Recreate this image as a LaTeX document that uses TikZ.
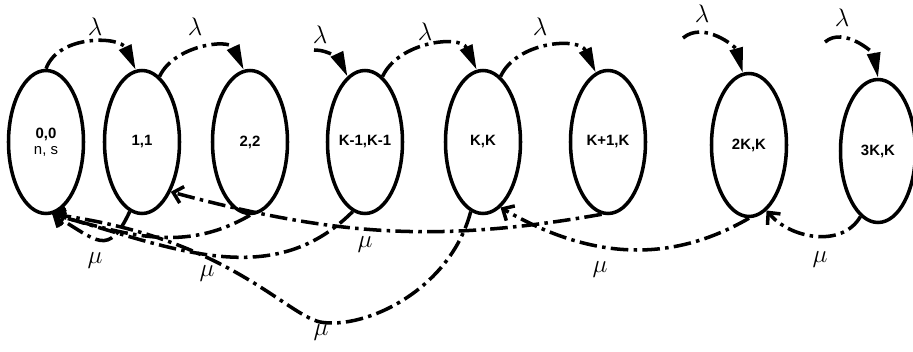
\documentclass[tikz,border=0pt]{standalone}
\usepackage{amsmath,amssymb}
\usepackage{fontspec}
\setsansfont{Liberation Sans}
\usepackage{tikz}
\usetikzlibrary{shapes.geometric,arrows.meta}

\begin{document}
\begin{tikzpicture}[
    state/.style={ellipse,draw,line width=2pt,minimum width=1.5cm,minimum height=2.86cm,
        inner sep=0pt,align=center,font=\sffamily\bfseries\fontsize{8.5}{10}\selectfont},
    lam/.style={line width=2pt,dash pattern=on 10pt off 3pt on 2pt off 3pt,
        -{Triangle[length=5mm,width=2.6mm]}},
    mu/.style={line width=2pt,dash pattern=on 10pt off 3pt on 2pt off 3pt,
        -{Straight Barb[length=1.8mm,width=3.4mm]}},
    rate/.style={font=\Large}]
    \useasboundingbox (0,0) rectangle (18.26,7.04);
    % states
    \node[state] (s00) at (0.92,4.2) {0,0\\[-1pt]{\mdseries n, s}};
    \node[state] (s11) at (2.84,4.2) {1,1};
    \node[state] (s22) at (5.0,4.2) {2,2};
    \node[state] (skm) at (7.3,4.2) {K-1,K-1};
    \node[state] (skk) at (9.66,4.2) {K,K};
    \node[state] (skp) at (12.16,4.2) {K+1,K};
    \node[state] (s2k) at (14.98,4.14) {2K,K};
    \node[state] (s3k) at (17.56,4.02) {3K,K};
    \coordinate (a1) at (6.28,6.04);
    \coordinate (a2) at (13.66,6.28);
    \coordinate (a3) at (16.5,6.2);
    % arrivals
    \draw[lam] (s00.north) to[out=70,in=115,looseness=1.05] (s11.95);
    \draw[lam] (s11.75) to[out=65,in=115,looseness=1.05] (s22.95);
    \draw[lam] (a1) to[out=0,in=115] (skm.105);
    \draw[lam] (skm.75) to[out=65,in=115,looseness=1.05] (skk.95);
    \draw[lam] (skk.75) to[out=65,in=115,looseness=1.05] (skp.100);
    \draw[lam] (a2) to[out=40,in=105] (s2k.95);
    \draw[lam] (a3) to[out=40,in=100] (s3k.north);
    \node[rate] (l1) at (1.9,6.5) {$\lambda$};
    \node[rate] (l2) at (3.9,6.5) {$\lambda$};
    \node[rate] (l3) at (6.4,6.34) {$\lambda$};
    \node[rate] (l4) at (8.5,6.4) {$\lambda$};
    \node[rate] (l5) at (10.8,6.5) {$\lambda$};
    \node[rate] (l6) at (14.04,6.76) {$\lambda$};
    \node[rate] (l7) at (16.84,6.68) {$\lambda$};
    % services
    \draw[mu] (s11.-100) to[out=-115,in=-30,looseness=1.7] (s00.-85);
    \draw[mu] (s22.south) to[out=-150,in=-15] (s00.-85);
    \draw[mu] (skm.-100) to[out=-135,in=-15] (s00.-85);
    \draw[mu] (skk.-100) .. controls (9.0,1.24) and (7.3,0.44) .. (6.4,0.6)
        .. controls (5.7,0.76) and (4.5,2.3) .. (s00.-85);
    \draw[mu] (skp.-95) to[out=190,in=-15] (s11.-60);
    \draw[mu] (s2k.south) to[out=-150,in=-30] (skk.-75);
    \draw[mu] (s3k.-105) to[out=-120,in=-50] (s2k.-75);
    \node[rate] (m1) at (1.9,1.82) {$\mu$};
    \node[rate] (m2) at (4.14,1.56) {$\mu$};
    \node[rate] (m3) at (6.42,0.38) {$\mu$};
    \node[rate] (m4) at (7.3,2.14) {$\mu$};
    \node[rate] (m5) at (12.0,1.64) {$\mu$};
    \node[rate] (m6) at (16.4,1.84) {$\mu$};
\end{tikzpicture}
\end{document}
